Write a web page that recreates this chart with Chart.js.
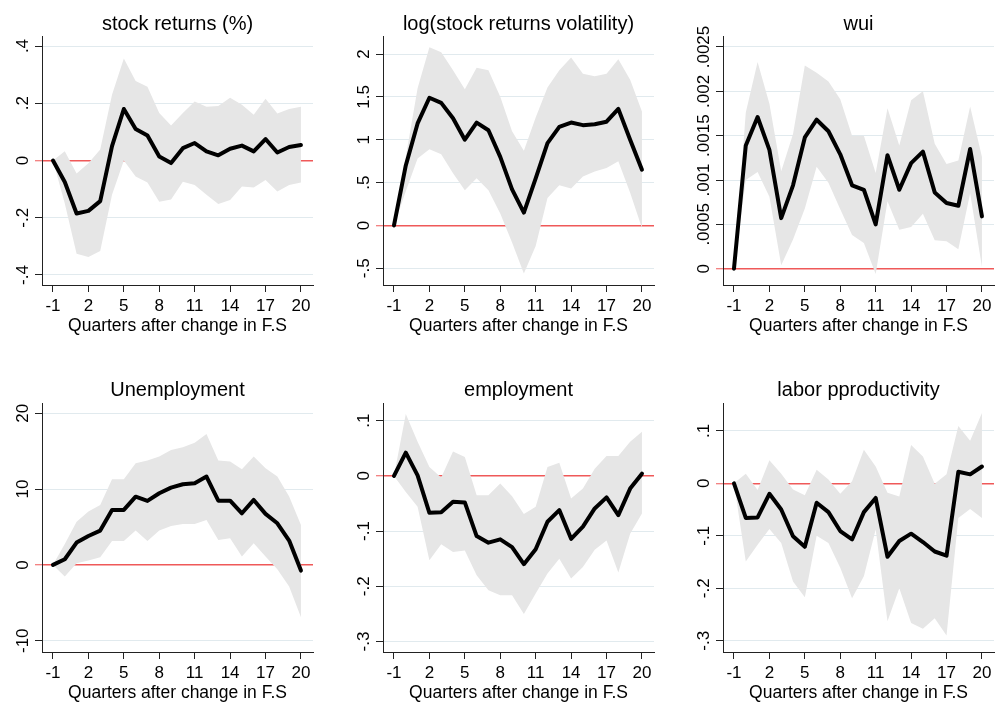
<!DOCTYPE html>
<html><head><meta charset="utf-8">
<script src="https://cdn.jsdelivr.net/npm/chart.js@4"></script>
<style>
html,body{margin:0;padding:0;background:#fff;overflow:hidden;width:995px;height:702px;position:relative}
.p{position:absolute}
canvas{display:block}
</style></head><body>
<script>
// ---------- data ----------
const quarters = [-1,0,1,2,3,4,5,6,7,8,9,10,11,12,13,14,15,16,17,18,19,20];
const xTickValues = [-1,2,5,8,11,14,17,20];
const xAxisTitle = 'Quarters after change in F.S';

const stockReturns      = [0,-0.075,-0.185,-0.176,-0.142,0.05,0.18,0.11,0.087,0.014,-0.009,0.043,0.061,0.032,0.018,0.041,0.052,0.032,0.075,0.028,0.047,0.054];
const stockReturnsUpper = [0,0.032,-0.045,-0.01,0.038,0.23,0.356,0.278,0.258,0.166,0.122,0.166,0.206,0.188,0.19,0.219,0.195,0.16,0.216,0.164,0.18,0.188];
const stockReturnsLower = [0,-0.15,-0.326,-0.337,-0.316,-0.12,0.0,-0.056,-0.077,-0.144,-0.136,-0.074,-0.086,-0.12,-0.152,-0.138,-0.091,-0.094,-0.068,-0.108,-0.086,-0.077];

const volatility      = [0,0.7,1.19,1.49,1.43,1.25,1.0,1.2,1.11,0.8,0.42,0.15,0.55,0.96,1.15,1.2,1.17,1.18,1.21,1.36,1.0,0.65];
const volatilityUpper = [0,0.8,1.6,2.08,2.02,1.81,1.59,1.84,1.81,1.5,1.1,0.87,1.26,1.61,1.81,1.96,1.77,1.74,1.77,1.94,1.7,1.33];
const volatilityLower = [0,0.4,0.78,0.89,0.83,0.61,0.41,0.55,0.41,0.14,-0.2,-0.56,-0.24,0.32,0.47,0.43,0.57,0.63,0.67,0.75,0.38,-0.03];

const wui      = [0,0.00139,0.00171,0.00134,0.00057,0.00094,0.00148,0.00168,0.00155,0.00129,0.00094,0.00089,0.0005,0.00128,0.00089,0.00119,0.00132,0.00086,0.00074,0.00071,0.00135,0.00059];
const wuiUpper = [0,0.00176,0.00233,0.00186,0.0011,0.00152,0.00229,0.00221,0.00211,0.00191,0.0015,0.0015,0.00108,0.00181,0.00139,0.0019,0.002,0.00141,0.00118,0.00122,0.00183,0.00126];
const wuiLower = [0,0.001,0.00109,0.00081,0.00004,0.00033,0.00068,0.00115,0.00097,0.00067,0.00038,0.00029,-0.00006,0.00076,0.00044,0.00047,0.00062,0.00032,0.00031,0.00022,0.00085,0.00002];

const unemployment      = [0,0.75,2.95,3.82,4.53,7.25,7.25,9.0,8.44,9.45,10.2,10.64,10.77,11.65,8.48,8.48,6.81,8.57,6.73,5.49,3.21,-0.75];
const unemploymentUpper = [0,2.77,5.71,7.03,7.91,11.3,11.3,13.4,13.76,14.3,15.16,15.52,16.13,17.27,13.76,13.63,12.62,14.29,12.75,11.65,9.01,5.27];
const unemploymentLower = [0,-1.54,0.22,0.57,1.01,3.16,3.16,4.53,3.16,4.53,5.14,5.41,5.41,5.93,3.3,3.52,1.1,2.86,1.1,-0.57,-2.86,-6.9];

const employment      = [0,0.042,0.001,-0.067,-0.066,-0.047,-0.048,-0.109,-0.121,-0.115,-0.129,-0.16,-0.133,-0.083,-0.062,-0.114,-0.092,-0.059,-0.039,-0.071,-0.023,0.004];
const employmentUpper = [0,0.112,0.062,0.016,-0.003,0.044,0.034,-0.035,-0.035,-0.014,-0.037,-0.069,-0.056,0.016,0.024,-0.041,-0.023,0.013,0.036,0.036,0.062,0.08];
const employmentLower = [0,-0.029,-0.056,-0.153,-0.124,-0.138,-0.135,-0.18,-0.207,-0.216,-0.216,-0.25,-0.213,-0.177,-0.15,-0.186,-0.165,-0.134,-0.117,-0.175,-0.105,-0.068];

const productivity      = [0,-0.066,-0.065,-0.02,-0.05,-0.101,-0.121,-0.037,-0.055,-0.091,-0.107,-0.055,-0.028,-0.14,-0.11,-0.096,-0.112,-0.13,-0.138,0.022,0.017,0.032];
const productivityUpper = [0,0.018,-0.013,0.044,0.018,-0.012,-0.023,0.026,0.007,-0.02,0.004,0.064,0.032,-0.018,-0.025,0.073,0.051,-0.001,0.017,0.109,0.081,0.134];
const productivityLower = [0,-0.149,-0.117,-0.087,-0.114,-0.187,-0.217,-0.1,-0.114,-0.161,-0.219,-0.177,-0.088,-0.263,-0.2,-0.266,-0.277,-0.257,-0.29,-0.066,-0.049,-0.066];

const yTicksSR  = [-0.4,-0.2,0,0.2,0.4];        const yLabelsSR  = ['-.4','-.2','0','.2','.4'];
const yTicksVol = [-0.5,0,0.5,1,1.5,2];         const yLabelsVol = ['-.5','0','.5','1','1.5','2'];
const yTicksWui = [0,0.0005,0.001,0.0015,0.002,0.0025]; const yLabelsWui = ['0','.0005','.001','.0015','.002','.0025'];
const yTicksUn  = [-10,0,10,20];                const yLabelsUn  = ['-10','0','10','20'];
const yTicksEmp = [-0.3,-0.2,-0.1,0,0.1];       const yLabelsEmp = ['-.3','-.2','-.1','0','.1'];
const yTicksLP  = [-0.3,-0.2,-0.1,0,0.1];       const yLabelsLP  = ['-.3','-.2','-.1','0','.1'];

const titles = ['stock returns (%)','log(stock returns volatility)','wui','Unemployment','employment','labor pproductivity'];

// ---------- layout ----------
const FONT = "'Liberation Sans', Arial, sans-serif";
const panels = [
  {title:titles[0], m:stockReturns, u:stockReturnsUpper, l:stockReturnsLower, yt:yTicksSR,  yl:yLabelsSR,  yMin:-0.435, yMax:0.435,   left:0,   top:0,   h:340, tp:[14,2]},
  {title:titles[1], m:volatility,   u:volatilityUpper,   l:volatilityLower,   yt:yTicksVol, yl:yLabelsVol, yMin:-0.695, yMax:2.21,    left:341, top:0,   h:340, tp:[14,2]},
  {title:titles[2], m:wui,          u:wuiUpper,          l:wuiLower,          yt:yTicksWui, yl:yLabelsWui, yMin:-0.000184, yMax:0.002624, left:681, top:0, h:340, tp:[14,2]},
  {title:titles[3], m:unemployment, u:unemploymentUpper, l:unemploymentLower, yt:yTicksUn,  yl:yLabelsUn,  yMin:-11.49, yMax:21.36,   left:0,   top:350, h:357, tp:[30,3]},
  {title:titles[4], m:employment,   u:employmentUpper,   l:employmentLower,   yt:yTicksEmp, yl:yLabelsEmp, yMin:-0.319, yMax:0.132,   left:341, top:350, h:357, tp:[30,3]},
  {title:titles[5], m:productivity, u:productivityUpper, l:productivityLower, yt:yTicksLP,  yl:yLabelsLP,  yMin:-0.3215, yMax:0.153,  left:681, top:350, h:357, tp:[30,3]},
];

const yLabelPlugin = {
  id: 'yRotLabels',
  afterDraw(chart, args, opts) {
    const s = chart.scales.y, ctx = chart.ctx;
    ctx.save();
    ctx.font = '17px ' + FONT;
    ctx.fillStyle = '#000';
    ctx.textAlign = 'center';
    ctx.textBaseline = 'alphabetic';
    const x = chart.chartArea.left - 14;
    s.ticks.forEach((t, i) => {
      const y = s.getPixelForValue(t.value);
      ctx.save();
      ctx.translate(x, y);
      ctx.rotate(-Math.PI / 2);
      ctx.fillText(opts.labels[i], 0, 0);
      ctx.restore();
    });
    ctx.restore();
  }
};

const isZero = v => Math.abs(v) < 1e-12;

panels.forEach((p, idx) => {
  const div = document.createElement('div');
  div.className = 'p';
  div.style.left = p.left + 'px';
  div.style.top = p.top + 'px';
  const cv = document.createElement('canvas');
  cv.width = 330; cv.height = p.h;
  cv.style.width = '330px'; cv.style.height = p.h + 'px';
  div.appendChild(cv);
  document.body.appendChild(div);

  const pts = arr => quarters.map((q, i) => ({x: q, y: arr[i]}));

  new Chart(cv, {
    type: 'line',
    data: {
      datasets: [
        {data: pts(p.u), borderWidth: 0, pointRadius: 0, fill: '+1', backgroundColor: '#e6e6e6', borderColor: 'rgba(0,0,0,0)', tension: 0, order: 3},
        {data: pts(p.l), borderWidth: 0, pointRadius: 0, fill: false, borderColor: 'rgba(0,0,0,0)', tension: 0, order: 2},
        {data: pts(p.m), borderWidth: 4, pointRadius: 0, fill: false, borderColor: '#000', borderJoinStyle: 'round', borderCapStyle: 'round', tension: 0, order: 1},
      ]
    },
    options: {
      responsive: false,
      animation: false,
      devicePixelRatio: 1,
      layout: {padding: {left: 0, right: 17, top: 0, bottom: 0}},
      plugins: {
        legend: {display: false},
        tooltip: {enabled: false},
        title: {display: true, text: p.title, fullSize: false, color: '#000',
                font: {family: FONT, size: 20, weight: 'normal', lineHeight: 1},
                padding: {top: p.tp[0], bottom: p.tp[1]}},
        yRotLabels: {labels: p.yl}
      },
      scales: {
        x: {
          type: 'linear', min: -1.93, max: 21.02,
          afterBuildTicks: s => { s.ticks = xTickValues.map(v => ({value: v})); },
          afterFit: s => { s.height = 55; },
          grid: {drawOnChartArea: false, drawTicks: true, tickLength: 7, tickColor: '#222', tickWidth: 1},
          border: {display: true, color: '#222', width: 1},
          ticks: {color: '#000', padding: 4, maxRotation: 0, autoSkip: false,
                  font: {family: FONT, size: 17},
                  callback: v => String(v)},
          title: {display: true, text: xAxisTitle, color: '#000',
                  font: {family: FONT, size: 17.5}, padding: {top: 0, bottom: 3.5}}
        },
        y: {
          type: 'linear', min: p.yMin, max: p.yMax,
          afterBuildTicks: s => { s.ticks = p.yt.map(v => ({value: v})); },
          afterFit: s => { s.width = 42; },
          grid: {
            drawTicks: true, tickLength: 7,
            color: c => (c.tick && isZero(c.tick.value)) ? 'rgba(236,60,60,0.85)' : '#e1eaee',
            lineWidth: c => (c.tick && isZero(c.tick.value)) ? 1.5 : 1,
            tickColor: c => (c.tick && isZero(c.tick.value)) ? 'rgba(236,60,60,0.85)' : '#222',
            tickWidth: 1
          },
          border: {display: true, color: '#222', width: 1},
          ticks: {display: false}
        }
      }
    },
    plugins: [yLabelPlugin]
  });
});
</script>
</body></html>
